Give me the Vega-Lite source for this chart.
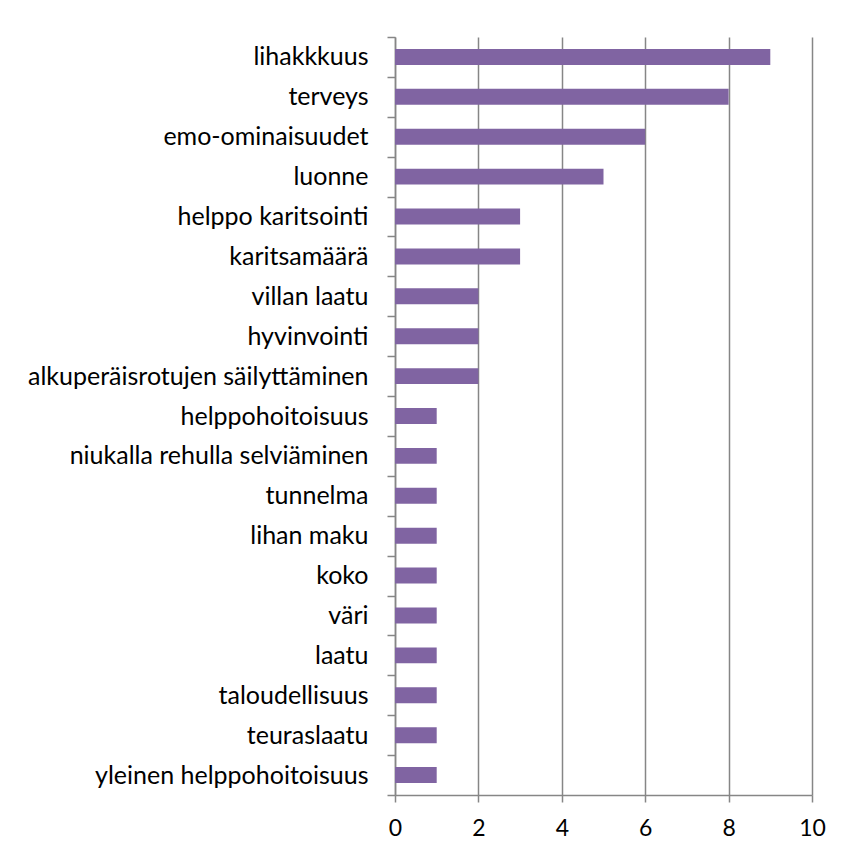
{
  "$schema": "https://vega.github.io/schema/vega-lite/v6.json",
  "width": 417,
  "height": 758,
  "autosize": "none",
  "padding": {"left": 395, "top": 37, "right": 33, "bottom": 61},
  "background": "white",
  "config": {"view": {"stroke": null}, "font": "Lato"},
  "data": {"values": [
    {"trait": "lihakkkuus", "count": 9},
    {"trait": "terveys ", "count": 8},
    {"trait": "emo-ominaisuudet", "count": 6},
    {"trait": "luonne", "count": 5},
    {"trait": "helppo karitsointi", "count": 3},
    {"trait": "karitsamäärä", "count": 3},
    {"trait": "villan laatu", "count": 2},
    {"trait": "hyvinvointi", "count": 2},
    {"trait": "alkuperäisrotujen säilyttäminen", "count": 2},
    {"trait": "helppohoitoisuus", "count": 1},
    {"trait": "niukalla rehulla selviäminen", "count": 1},
    {"trait": "tunnelma", "count": 1},
    {"trait": "lihan maku", "count": 1},
    {"trait": "koko", "count": 1},
    {"trait": "väri", "count": 1},
    {"trait": "laatu", "count": 1},
    {"trait": "taloudellisuus", "count": 1},
    {"trait": "teuraslaatu", "count": 1},
    {"trait": "yleinen helppohoitoisuus ", "count": 1}
  ]},
  "mark": {"type": "bar", "color": "#8064A2", "height": {"band": 0.4}},
  "encoding": {
    "y": {
      "field": "trait", "type": "nominal", "sort": null,
      "scale": {"paddingInner": 0, "paddingOuter": 0},
      "axis": {
        "title": null, "tickBand": "extent", "tickSize": 8, "tickColor": "#868686", "tickWidth": 1.5,
        "domainColor": "#868686", "domainWidth": 1.5,
        "labelFontSize": 25, "labelColor": "#000000", "labelPadding": 19, "labelLimit": 400
      }
    },
    "x": {
      "field": "count", "type": "quantitative",
      "scale": {"domain": [0, 10], "nice": false},
      "axis": {
        "title": null, "values": [0, 2, 4, 6, 8, 10], "grid": true, "gridColor": "#868686", "gridWidth": 1.5,
        "tickSize": 7, "tickColor": "#868686", "tickWidth": 1.5,
        "domainColor": "#868686", "domainWidth": 1.5, "labelFlush": false,
        "labelFontSize": 23, "labelColor": "#000000", "labelPadding": 15
      }
    }
  }
}
